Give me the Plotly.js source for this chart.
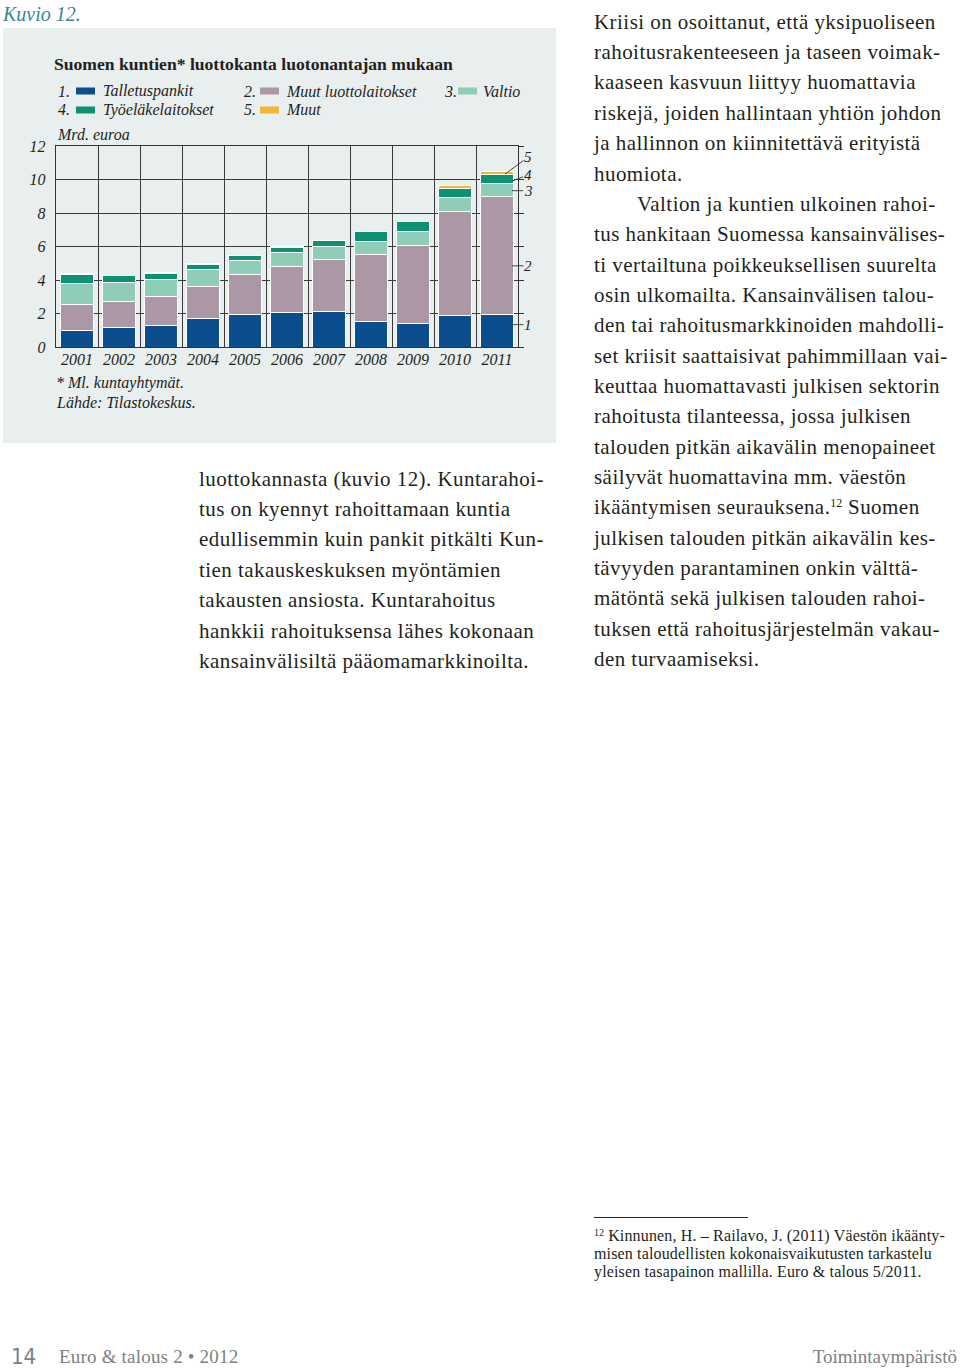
<!DOCTYPE html>
<html>
<head>
<meta charset="utf-8">
<script src="https://cdn.plot.ly/plotly-3.0.1.min.js"></script>
<style>
  html, body { margin:0; padding:0; background:#fff; }
  body { width:960px; height:1369px; position:relative; overflow:hidden; font-family:"Liberation Serif", serif; color:#231f20; }
  .abs { position:absolute; white-space:nowrap; }
  #kuvio { left:3px; top:1px; font-size:20px; font-style:italic; color:#3a8497; line-height:26px; }
  #panel { position:absolute; left:3px; top:28px; width:553px; height:415px; background:#e9eeef; }
  .col { position:absolute; font-size:21px; letter-spacing:0.45px; line-height:30.35px; white-space:nowrap; }
  .col div { height:30.35px; }
  #fnrule { position:absolute; left:594px; top:1217px; width:154px; height:0; border-top:1.3px solid #222; }
  #fn { position:absolute; left:594px; top:1227px; font-size:16px; letter-spacing:0.15px; line-height:18px; white-space:nowrap; }
  #fn sup { font-size:10px; vertical-align:5px; line-height:0; letter-spacing:0; }
  .foot { position:absolute; top:1343px; color:#7a8185; line-height:28px; white-space:nowrap; }
</style>
</head>
<body>
<div id="kuvio" class="abs">Kuvio 12.</div>
<div id="panel"><div id="chart"></div></div>

<div class="col" style="left:199px; top:463.8px;">
  <div>luottokannasta (kuvio 12). Kuntarahoi-</div>
  <div>tus on kyennyt rahoittamaan kuntia</div>
  <div>edullisemmin kuin pankit pitkälti Kun-</div>
  <div>tien takauskeskuksen myöntämien</div>
  <div>takausten ansiosta. Kuntarahoitus</div>
  <div>hankkii rahoituksensa lähes kokonaan</div>
  <div>kansainvälisiltä pääomamarkkinoilta.</div>
</div>

<div class="col" style="left:594px; top:6.8px;">
  <div>Kriisi on osoittanut, että yksipuoliseen</div>
  <div>rahoitusrakenteeseen ja taseen voimak-</div>
  <div>kaaseen kasvuun liittyy huomattavia</div>
  <div>riskejä, joiden hallintaan yhtiön johdon</div>
  <div>ja hallinnon on kiinnitettävä erityistä</div>
  <div>huomiota.</div>
  <div style="padding-left:43px;">Valtion ja kuntien ulkoinen rahoi-</div>
  <div>tus hankitaan Suomessa kansainvälises-</div>
  <div>ti vertailtuna poikkeuksellisen suurelta</div>
  <div>osin ulkomailta. Kansainvälisen talou-</div>
  <div>den tai rahoitusmarkkinoiden mahdolli-</div>
  <div>set kriisit saattaisivat pahimmillaan vai-</div>
  <div>keuttaa huomattavasti julkisen sektorin</div>
  <div>rahoitusta tilanteessa, jossa julkisen</div>
  <div>talouden pitkän aikavälin menopaineet</div>
  <div>säilyvät huomattavina mm. väestön</div>
  <div>ikääntymisen seurauksena.<span style="font-size:12px; vertical-align:7px; line-height:0; letter-spacing:0;">12</span> Suomen</div>
  <div>julkisen talouden pitkän aikavälin kes-</div>
  <div>tävyyden parantaminen onkin välttä-</div>
  <div>mätöntä sekä julkisen talouden rahoi-</div>
  <div>tuksen että rahoitusjärjestelmän vakau-</div>
  <div>den turvaamiseksi.</div>
</div>

<div id="fnrule"></div>
<div id="fn">
  <div><sup>12</sup> Kinnunen, H. – Railavo, J. (2011) Väestön ikäänty-</div>
  <div>misen taloudellisten kokonaisvaikutusten tarkastelu</div>
  <div>yleisen tasapainon mallilla. Euro &amp; talous 5/2011.</div>
</div>

<div class="foot" style="left:11px; font-family:'Liberation Sans Narrow','DejaVu Sans Condensed',sans-serif; font-size:22px;">14</div>
<div class="foot" style="left:59px; font-size:19px; letter-spacing:0.2px;">Euro &amp; talous 2 • 2012</div>
<div class="foot" style="right:3px; font-size:19px;">Toimintaympäristö</div>

<script>
// ---- data (Mrd. euroa) ----
const years = ['2001','2002','2003','2004','2005','2006','2007','2008','2009','2010','2011'];
const talletuspankit      = [1.00, 1.16, 1.28, 1.68, 1.96, 2.08, 2.10, 1.52, 1.40, 1.86, 1.96];
const muutLuottolaitokset = [1.56, 1.56, 1.76, 1.96, 2.34, 2.70, 3.10, 3.98, 4.66, 6.24, 7.04];
const valtio              = [1.24, 1.12, 1.00, 0.96, 0.88, 0.88, 0.82, 0.80, 0.84, 0.80, 0.74];
const tyoelakelaitokset   = [0.50, 0.40, 0.36, 0.34, 0.30, 0.30, 0.36, 0.60, 0.60, 0.56, 0.58];
const muut                = [0.08, 0.02, 0.06, 0.05, 0.00, 0.06, 0.00, 0.00, 0.00, 0.20, 0.18];
const seriesNames = ['Talletuspankit','Muut luottolaitokset','Valtio','Työeläkelaitokset','Muut'];
const yTicks = [0, 2, 4, 6, 8, 10, 12];

const series = [talletuspankit, muutLuottolaitokset, valtio, tyoelakelaitokset, muut];
const colors = ['#0c4e8d', '#ac97a7', '#8fcdb9', '#0c9272', '#f2b636'];

// ---- geometry helpers (div pixel -> paper) ----
const W = 553, H = 415, M = {l:53, r:38, t:118, b:96};
const PW = W - M.l - M.r, PH = H - M.t - M.b;
const px = x => (x - M.l) / PW;
const py = y => 1 - (y - M.t) / PH;

const serif = 'Liberation Serif, serif';
const ink = '#231f20';

const traces = series.map((vals, i) => ({
  type: 'bar', name: seriesNames[i], x: years, y: vals,
  marker: {color: colors[i], line: {color: '#ffffff', width: 1}},
  hoverinfo: 'x+y+name'
}));
traces.push({type:'scatter', x:[], y:[], yaxis:'y2', showlegend:false, hoverinfo:'skip'});

// ---- legend (custom, numbered) ----
const shapes = [], annotations = [];
const legendPos = [
  {n:'1.', nx:53,  sx:73,  tx:98,  y:63},
  {n:'2.', nx:239, sx:257, tx:281, y:63},
  {n:'3.', nx:439, sx:455, tx:478, y:63},
  {n:'4.', nx:53,  sx:73,  tx:98,  y:82},
  {n:'5.', nx:239, sx:257, tx:281, y:82}
];
const lfont = {family:serif, size:16, style:'italic', color:ink};
legendPos.forEach((p, i) => {
  annotations.push({xref:'paper', yref:'paper', x:px(p.nx), y:py(p.y), xanchor:'left', yanchor:'middle',
    text:p.n, showarrow:false, font:lfont});
  shapes.push({type:'rect', xref:'paper', yref:'paper', x0:px(p.sx), x1:px(p.sx+19), y0:py(p.y+3.5), y1:py(p.y-3.5),
    fillcolor:colors[i], line:{width:0}});
  annotations.push({xref:'paper', yref:'paper', x:px(p.tx), y:py(p.y), xanchor:'left', yanchor:'middle',
    text:seriesNames[i], showarrow:false, font:lfont});
});

// unit label and footnotes
annotations.push({xref:'paper', yref:'paper', x:px(52), y:py(106), xanchor:'left', yanchor:'middle',
  text:'Mrd. euroa', showarrow:false, font:lfont});
annotations.push({xref:'paper', yref:'paper', x:px(51), y:py(355), xanchor:'left', yanchor:'middle',
  text:'* Ml. kuntayhtymät.', showarrow:false, font:lfont});
annotations.push({xref:'paper', yref:'paper', x:px(51), y:py(374), xanchor:'left', yanchor:'middle',
  text:'Lähde: Tilastokeskus.', showarrow:false, font:lfont});

// segment number labels on last bar
const last = years.length - 1;
let base = 0;
const segFrac = [0.68, 0.41, 0.45, 0.3, 0.0];
const segTip  = [{x:509, ax:16, ay:0}, {x:509, ax:16, ay:0}, {x:509, ax:16, ay:0}, {x:509.5, ax:15, ay:-6}, {x:502, ax:23, ay:-17}];
series.forEach((vals, i) => {
  const yv = base + vals[last] * segFrac[i];
  base += vals[last];
  annotations.push({xref:'paper', yref:'y', x:px(segTip[i].x), y:yv, text:String(i+1),
    showarrow:true, arrowhead:0, arrowwidth:0.9, arrowcolor:'#333', ax:segTip[i].ax, ay:segTip[i].ay,
    standoff:0, startstandoff:0, borderpad:0,
    font:{family:serif, size:15, style:'italic', color:ink}});
});

const layout = {
  width: W, height: H,
  margin: M,
  paper_bgcolor: '#e9eeef', plot_bgcolor: '#e9eeef',
  font: {family: serif, color: ink},
  title: {text: 'Suomen kuntien* luottokanta luotonantajan mukaan', x: 51/W, xanchor: 'left', xref: 'container',
          y: 1 - 36/H, yanchor: 'middle', yref: 'container',
          font: {family: serif, size: 17.6, weight: 'bold', color: ink}},
  barmode: 'stack', bargap: 0.22,
  showlegend: false,
  xaxis: {type: 'category', tickson: 'boundaries', showgrid: true, gridcolor: '#3a3a3a', gridwidth: 1,
          showline: true, linecolor: '#333', linewidth: 1.2, mirror: true, ticks: '', ticklabelstandoff: -2,
          tickfont: {family: serif, size: 16, style: 'italic', color: ink}, fixedrange: true},
  yaxis: {range: [0, 12], tickvals: yTicks, showgrid: true, gridcolor: '#3a3a3a', gridwidth: 1,
          showline: true, linecolor: '#333', linewidth: 1.2, mirror: true, ticks: '', zeroline: false,
          ticklabelstandoff: 6,
          tickfont: {family: serif, size: 16, style: 'italic', color: ink}, fixedrange: true},
  yaxis2: {overlaying: 'y', side: 'right', range: [0, 12], tickvals: yTicks, ticks: 'outside', ticklen: 5,
           tickcolor: '#333', showticklabels: false, showgrid: false, showline: false, zeroline: false, fixedrange: true},
  shapes: shapes,
  annotations: annotations
};

Plotly.newPlot('chart', traces, layout, {displayModeBar: false, staticPlot: true});
</script>
</body>
</html>
